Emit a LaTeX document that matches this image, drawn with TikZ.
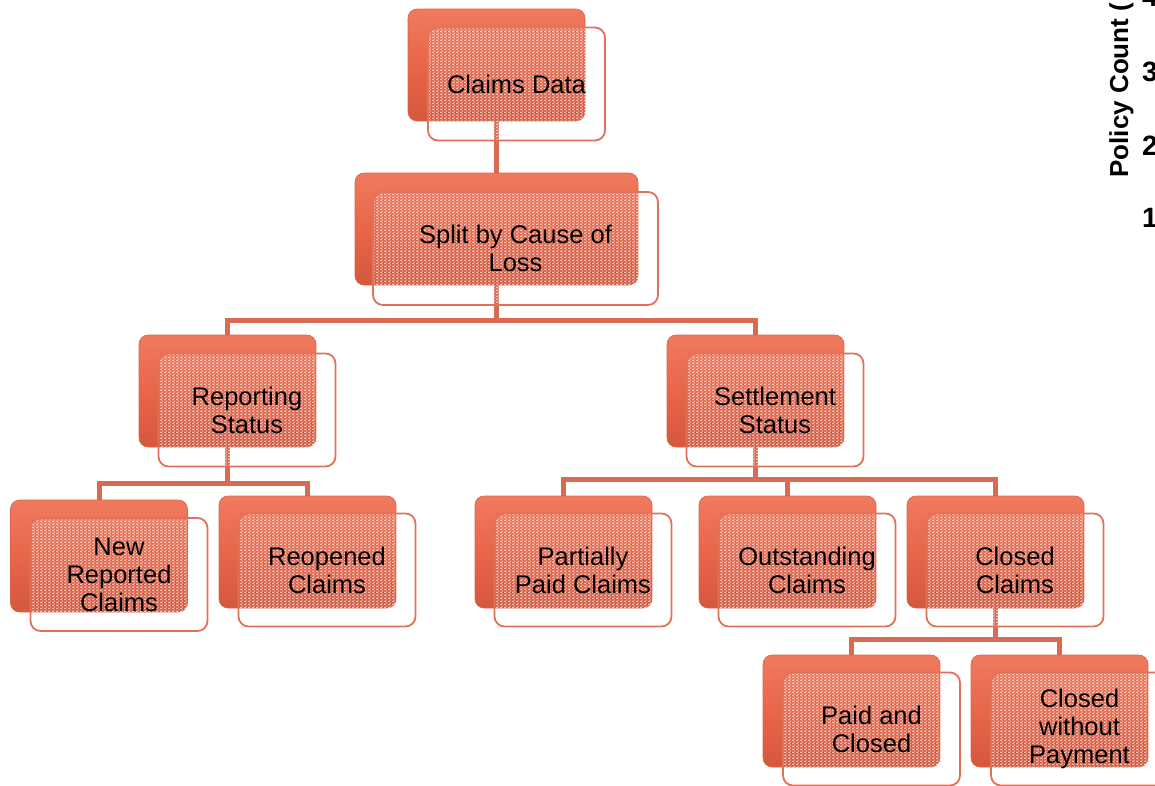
\documentclass[tikz,border=0pt]{standalone}
\usepackage{fontspec}
\setmainfont{Liberation Sans}
\usetikzlibrary{patterns.meta}

\definecolor{boxtop}{HTML}{F07A5D}
\definecolor{boxmid}{HTML}{E8664A}
\definecolor{boxbot}{HTML}{D5573C}
\definecolor{boxedge}{HTML}{D9644A}
\definecolor{linkcol}{HTML}{D96A54}
\definecolor{framecol}{HTML}{E2705B}

% fine white speckle used on the framed text panels
\pgfdeclarepattern{
  name=speckle,
  type=uncolored,
  bottom left={\pgfpoint{0pt}{0pt}},
  top right={\pgfpoint{4pt}{3.4pt}},
  tile size={\pgfpoint{4pt}{3.4pt}},
  code={
    \pgfpathrectangle{\pgfpoint{0.3pt}{0.3pt}}{\pgfpoint{1.9pt}{0.9pt}}
    \pgfpathrectangle{\pgfpoint{2.3pt}{2.0pt}}{\pgfpoint{1.5pt}{0.9pt}}
    \pgfusepath{fill}
  }
}

\pgfdeclarelayer{links}
\pgfsetlayers{links,main}

\tikzset{
  fillbox/.style={rounded corners=9pt, minimum width=177pt, minimum height=112pt,
    inner sep=0pt, top color=boxtop, bottom color=boxbot, middle color=boxmid,
    draw=boxedge, line width=0.6pt},
  framebox/.style={rounded corners=10pt, minimum width=177pt, minimum height=113pt,
    inner sep=0pt, draw=framecol, line width=1.8pt, pattern=speckle,
    pattern color=white, align=center, text=black,
    font=\fontsize{25.5}{28}\selectfont},
  link/.style={draw=linkcol, line width=5pt},
  axislabel/.style={font=\bfseries\fontsize{26}{28}\selectfont, text=black},
  tick/.style={font=\bfseries\fontsize{28}{30}\selectfont, text=black, inner sep=0pt}
}

\begin{document}
\begin{tikzpicture}[x=1pt, y=-1pt]
\useasboundingbox (0,0) rectangle (1155,785);
\clip (0,0) rectangle (1155,785);

% level 1
\node[fillbox] (cd) at (496.5,65) {};
\node[framebox] (cd-t) at (516.5,84) {Claims Data};

% level 2
\node[fillbox, minimum width=283pt] (split) at (496.5,229) {};
\node[framebox, minimum width=285pt] (split-t) at (515.5,248.5) {Split by Cause of\\Loss};

% level 3
\node[fillbox] (rep) at (227.5,391) {};
\node[framebox] (rep-t) at (247,410) {Reporting\\Status};
\node[fillbox] (set) at (755.5,391) {};
\node[framebox] (set-t) at (775,410) {Settlement\\Status};

% level 4
\node[fillbox] (new) at (99,556) {};
\node[framebox] (new-t) at (119,574.5) {New\\Reported\\Claims};
\node[fillbox] (reo) at (307.5,552) {};
\node[framebox] (reo-t) at (327,570) {Reopened\\Claims};
\node[fillbox] (par) at (563.5,552) {};
\node[framebox] (par-t) at (583,570) {Partially\\Paid Claims};
\node[fillbox] (out) at (787.5,552) {};
\node[framebox] (out-t) at (807,570) {Outstanding\\Claims};
\node[fillbox] (clo) at (995.5,552) {};
\node[framebox] (clo-t) at (1015,570) {Closed\\Claims};

% level 5
\node[fillbox] (pac) at (851.5,711) {};
\node[framebox] (pac-t) at (871.5,729) {Paid and\\Closed};
\node[fillbox] (cwp) at (1059.5,711) {};
\node[framebox] (cwp-t) at (1079.5,729) {Closed\\without\\Payment};

% bus lines of the tree
\coordinate (bus1) at (0,320);
\coordinate (bus2) at (0,483);
\coordinate (bus3) at (0,479);
\coordinate (bus4) at (0,639);

\begin{pgfonlayer}{links}
  \draw[link] (cd.center) -- (split.center);
  \draw[link] (split.center) -- (split |- bus1) -| (rep.center);
  \draw[link] (split |- bus1) -| (set.center);
  \draw[link] (rep.center) -- (rep |- bus2) -| (new.center);
  \draw[link] (rep |- bus2) -| (reo.center);
  \draw[link] (set.center) -- (set |- bus3) -| (par.center);
  \draw[link] (set |- bus3) -| (out.center);
  \draw[link] (set |- bus3) -| (clo.center);
  \draw[link] (clo.center) -- (clo |- bus4) -| (pac.center);
  \draw[link] (clo |- bus4) -| (cwp.center);
\end{pgfonlayer}

% partial chart axis at the right edge
\node[axislabel, rotate=90, anchor=base west] (axis) at (1128,181) {Policy Count (};
\node[tick, anchor=east] (t4) at (1158,-3) {4};
\node[tick, anchor=east] (t3) at (1158,72) {3};
\node[tick, anchor=east] (t2) at (1158,146) {2};
\node[tick, anchor=east] (t1) at (1158,218) {1};
\end{tikzpicture}
\end{document}
